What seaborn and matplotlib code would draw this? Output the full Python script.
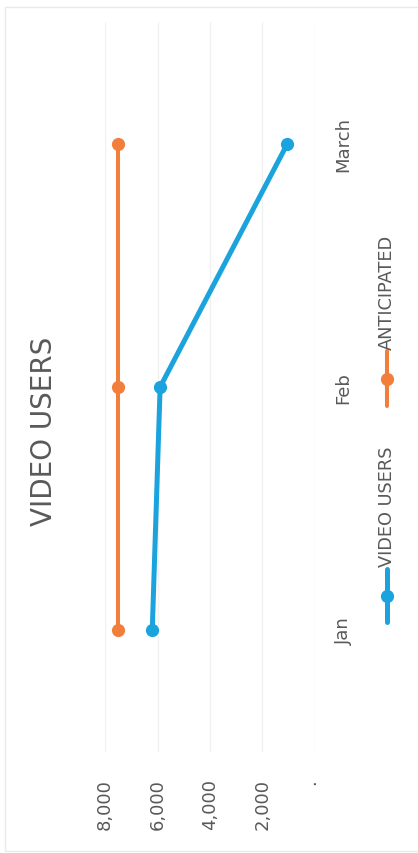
import numpy as np
import pandas as pd
import matplotlib
matplotlib.use("Agg")
import matplotlib.pyplot as plt
from matplotlib.lines import Line2D
from matplotlib.patches import Rectangle
import seaborn as sns

# ---- data ----
months = ["Jan", "Feb", "March"]
video_users = [6200, 5900, 1050]
anticipated = [7500, 7500, 7500]
series_names = ["VIDEO USERS", "ANTICIPATED"]
value_ticks = [0, 2000, 4000, 6000, 8000]
value_tick_labels = ["·", "2,000", "4,000", "6,000", "8,000"]
title = "VIDEO USERS"

colors = {"VIDEO USERS": "#1AA3DC", "ANTICIPATED": "#F27E3C"}
text_color = "#595959"

df = pd.DataFrame({
    "month": months * 2,
    "value": video_users + anticipated,
    "series": [series_names[0]] * len(months) + [series_names[1]] * len(months),
})

sns.set_theme(style="white")
plt.rcParams["font.family"] = ["DejaVu Sans"]

fig = plt.figure(figsize=(4.18, 8.54), dpi=100)
ax = fig.add_axes([105 / 418, 1 - 753 / 854, 210 / 418, 730 / 854])

for name, lw in [("ANTICIPATED", 2.9), ("VIDEO USERS", 3.6)]:
    sub = df[df["series"] == name]
    sns.lineplot(data=sub, x="value", y="month", ax=ax, color=colors[name],
                 linewidth=lw, marker="o", markersize=9.5, markeredgewidth=0,
                 sort=False, estimator=None, orient="y", legend=False)

ax.set_xlim(8000, 0)
ax.set_ylim(-0.5, len(months) - 0.5)
ax.set_xticks(value_ticks)
ax.set_xticklabels(value_tick_labels, rotation=90, color=text_color, fontsize=13)
ax.set_yticks(range(len(months)))
ax.set_yticklabels(months, rotation=90, color=text_color, fontsize=13, va="center")
ax.yaxis.tick_right()
ax.tick_params(axis="x", length=0, pad=19)
ax.tick_params(axis="y", length=0, pad=14)
ax.set_xlabel("")
ax.set_ylabel("")
ax.grid(axis="x", color="#F1F1F1", linewidth=1)
ax.grid(axis="y", visible=False)
for s in ax.spines.values():
    s.set_visible(False)

# title
fig.text(44 / 418, 1 - 431 / 854, title, rotation=90, ha="center", va="center",
         fontsize=20, color=text_color)

# legend (rotated, manual)
leg_x = 387 / 418
legend_spec = [("VIDEO USERS", 623, 570, 567, 3.6), ("ANTICIPATED", 407, 352, 350, 2.9)]
for name, y0, y1, ytext, lw in legend_spec:
    fy0, fy1 = 1 - y0 / 854, 1 - y1 / 854
    fig.add_artist(Line2D([leg_x, leg_x], [fy0, fy1], transform=fig.transFigure,
                          color=colors[name], linewidth=lw, solid_capstyle="round"))
    fig.add_artist(Line2D([leg_x], [(fy0 + fy1) / 2], transform=fig.transFigure,
                          color=colors[name], marker="o", markersize=9.5,
                          markeredgewidth=0, linestyle="none"))
    fig.text(leg_x, 1 - ytext / 854, name, rotation=90, ha="center", va="bottom",
             fontsize=12.8, color=text_color)

# faint chart border
fig.add_artist(Rectangle((5 / 418, 2 / 854), 1.1, 1 - 10 / 854, transform=fig.transFigure,
                         fill=False, edgecolor="#EAEAEA", linewidth=1))

fig.savefig("out.png", dpi=100, facecolor="white")
